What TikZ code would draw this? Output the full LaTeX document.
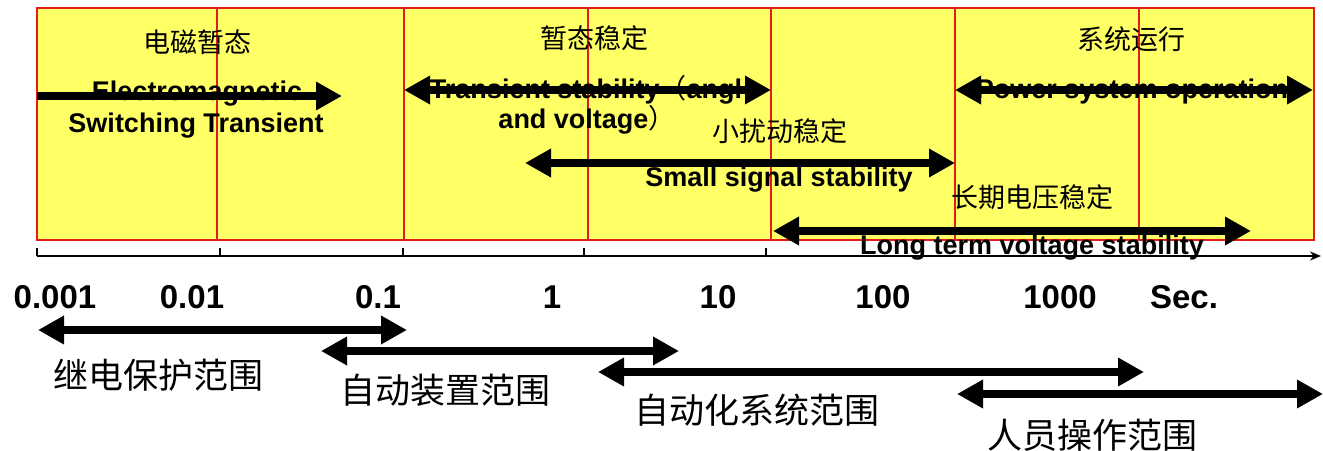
\documentclass[tikz,border=0pt]{standalone}
\usepackage{fontspec}
\setmainfont{Liberation Sans}
\newfontfamily\cjk{Noto Sans CJK SC}
\usetikzlibrary{arrows.meta}
\definecolor{boxyellow}{RGB}{255,255,102}
\definecolor{boxred}{RGB}{226,28,28}
\begin{document}
\begin{tikzpicture}[x=1pt,y=-1pt,
  rangeone/.style={line width=8.5pt, -{Triangle[length=26pt,width=27pt]}},
  rangetwo/.style={line width=8.5pt, {Triangle[length=26pt,width=27pt]}-{Triangle[length=26pt,width=27pt]}},
  entext/.style={font=\fontsize{27}{32}\selectfont\bfseries, anchor=base, inner sep=0pt},
  cjktop/.style={font=\cjk\fontsize{27}{32}\selectfont, inner sep=0pt},
  cjkbot/.style={font=\cjk\fontsize{35}{40}\selectfont, inner sep=0pt},
  numlabel/.style={font=\fontsize{33}{38}\selectfont\bfseries, inner sep=0pt},
  redline/.style={draw=boxred, line width=1.5pt},
  axisline/.style={line width=1.5pt}]
\useasboundingbox (0,0) rectangle (1323,450);
% yellow bands
\fill[boxyellow] (37,8) rectangle (1314,240);
\foreach \x in {217,404,588,771,955,1139} \draw[redline] (\x,8) -- (\x,240);
\draw[redline, line width=1.8pt] (37,8) rectangle (1314,240);
% axis
\coordinate (axL) at (37,256);
\coordinate (axR) at (1321,256);
\draw[axisline, -{Stealth[length=11pt,width=9pt]}] (axL) -- (axR);
\foreach \x in {37,220,403,584,766} \draw[axisline] (\x,256) -- (\x,248);
% top Chinese headings
\node[cjktop] (h1) at (197,42) {电磁暂态};
\node[cjktop] (h2) at (594,38) {暂态稳定};
\node[cjktop] (h3) at (1131,39) {系统运行};
\node[cjktop] (h4) at (780,131) {小扰动稳定};
\node[cjktop] (h5) at (1032,197) {长期电压稳定};
% English labels
\node[entext] (e1) at (197,100) {Electromagnetic};
\node[entext] (e2) at (196,132) {Switching Transient};
\node[entext] (t1) at (586,98) {Transient stability{\mdseries\cjk （}angl};
\node[entext] (t2) at (587,128) {and voltage{\mdseries\cjk ）}};
\node[entext] (s1) at (779,186) {Small signal stability};
\node[entext] (p1) at (1132,98) {Power system operation};
\node[entext] (l1) at (1032,254) {Long term voltage stability};
% top arrows
\coordinate (emL) at (37,96);   \coordinate (emR) at (342,96);
\coordinate (tsL) at (404,90);  \coordinate (tsR) at (771,90);
\coordinate (ssL) at (525,163); \coordinate (ssR) at (955,163);
\coordinate (psL) at (955,90);  \coordinate (psR) at (1313,90);
\coordinate (ltL) at (773,231); \coordinate (ltR) at (1251,231);
\draw[rangeone] (emL) -- (emR);
\draw[rangetwo] (tsL) -- (tsR);
\draw[rangetwo] (ssL) -- (ssR);
\draw[rangetwo] (psL) -- (psR);
\draw[rangetwo] (ltL) -- (ltR);
% numbers
\node[numlabel] (n1) at (55,297) {0.001};
\node[numlabel] (n2) at (192,297) {0.01};
\node[numlabel] (n3) at (378,297) {0.1};
\node[numlabel] (n4) at (552,297) {1};
\node[numlabel] (n5) at (718,297) {10};
\node[numlabel] (n6) at (883,297) {100};
\node[numlabel] (n7) at (1060,297) {1000};
\node[numlabel] (n8) at (1184,297) {Sec.};
% bottom ranges
\coordinate (rpL) at (38,330);  \coordinate (rpR) at (407,330);
\coordinate (adL) at (321,351); \coordinate (adR) at (679,351);
\coordinate (asL) at (598,372); \coordinate (asR) at (1144,372);
\coordinate (hoL) at (957,394); \coordinate (hoR) at (1323,394);
\draw[rangetwo] (rpL) -- (rpR);
\draw[rangetwo] (adL) -- (adR);
\draw[rangetwo] (asL) -- (asR);
\draw[rangetwo] (hoL) -- (hoR);
\node[cjkbot] (b1) at (158,375) {继电保护范围};
\node[cjkbot] (b2) at (445,390) {自动装置范围};
\node[cjkbot] (b3) at (757,410) {自动化系统范围};
\node[cjkbot] (b4) at (1092,435) {人员操作范围};
\end{tikzpicture}
\end{document}
